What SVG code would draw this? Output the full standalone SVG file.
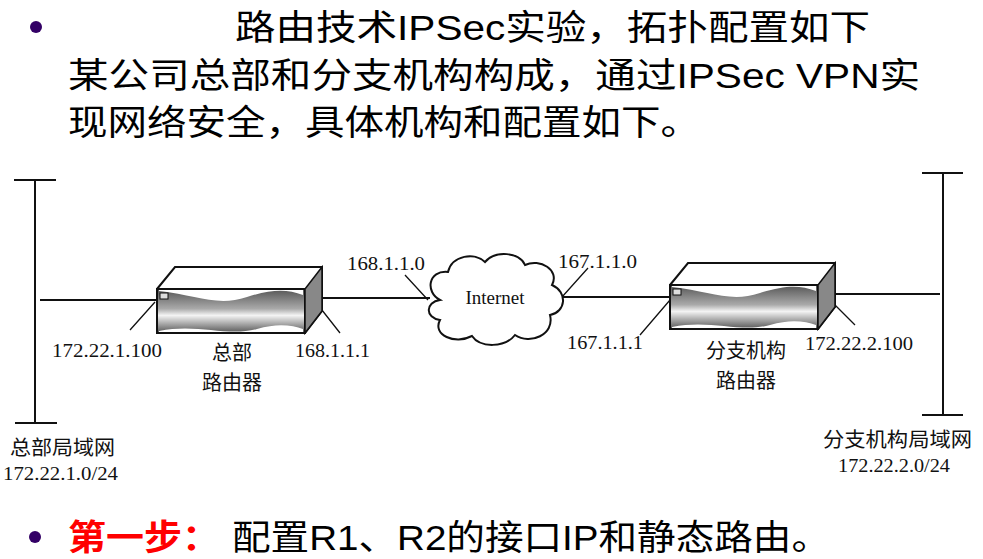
<svg xmlns="http://www.w3.org/2000/svg" width="983" height="559" viewBox="0 0 983 559">
<defs>
<style>
.t{font-family:"Liberation Sans","Noto Sans CJK SC",sans-serif;font-size:35px;fill:#000}
.r{fill:#ff0000;font-weight:bold}
.s{font-family:"Liberation Serif","Noto Sans CJK SC",serif;font-size:19px;fill:#111}
.c{font-family:"Noto Sans CJK SC",sans-serif;font-size:20px;fill:#111}
.ln{stroke:#111;stroke-width:2;fill:none}
.lf{stroke:#111;stroke-width:1.3;fill:none}
</style>
<linearGradient id="g" x1="0" y1="0" x2="0" y2="1">
<stop offset="0" stop-color="#555"/><stop offset="0.45" stop-color="#aaa"/><stop offset="0.6" stop-color="#f4f4f4"/><stop offset="1" stop-color="#555"/>
</linearGradient>
<g id="rt">
<path d="M0,22 L18,0 L165,0 L165,44 L148,66 L0,66 Z" fill="#fff" stroke="#111" stroke-width="2"/>
<path d="M0,22 L148,22 L148,66 L0,66 Z" fill="url(#g)" stroke="#111" stroke-width="2"/>
<path d="M148,22 L165,0 L165,44 L148,66 Z" fill="#888" stroke="#111" stroke-width="1.5"/>
<path d="M2,24 C40,28 60,40 90,30 C115,22 130,22 146,28 L146,23 L2,23 Z" fill="#fff"/>
<path d="M2,64 C40,56 70,70 100,62 C120,56 135,58 146,62 L146,65 L2,65 Z" fill="#fff"/>
<rect x="3" y="26" width="8" height="6" fill="#ddd" stroke="#111"/>
</g>
</defs>
<rect width="983" height="559" fill="#fff"/>
<g id="title">
<circle cx="36" cy="27" r="6" fill="#330066"/>
<text class="t" x="235" y="40" textLength="635" lengthAdjust="spacingAndGlyphs">路由技术IPSec实验，拓扑配置如下</text>
<text class="t" x="68" y="88" textLength="852" lengthAdjust="spacingAndGlyphs">某公司总部和分支机构构成，通过IPSec VPN实</text>
<text class="t" x="68" y="135" textLength="632" lengthAdjust="spacingAndGlyphs">现网络安全，具体机构和配置如下。</text>
</g>
<g id="connectors">
<path class="ln" d="M35,180V423M14,180H56M15,423H57"/>
<path class="ln" d="M943,173V415M922,173H963M922,415H963"/>
<path class="ln" d="M40,300H157M322,298H430M562,297H670M836,294H940"/>
<path class="lf" d="M130,330L155,302M340,333L318,305M405,275L428,300M588,268L562,297M640,335L670,300M855,325L830,300"/>
</g>
<g id="r1"><use href="#rt" x="157" y="267"/></g>
<g id="r2"><use href="#rt" x="670" y="263"/></g>
<g id="internet">
<path d="M440,300 C425,292 428,270 448,272 C452,255 475,252 485,262 C495,250 520,252 525,265 C540,258 560,270 552,285 C568,292 566,312 550,315 C555,335 530,345 515,335 C505,348 480,348 472,336 C455,345 432,335 440,320 C425,318 425,302 440,300 Z" fill="#fff" stroke="#111" stroke-width="2"/>
<text class="s" x="495" y="304" text-anchor="middle">Internet</text>
</g>
<g id="labels">
<text class="s" x="52" y="357" textLength="110" lengthAdjust="spacingAndGlyphs">172.22.1.100</text>
<text class="c" x="232" y="360" text-anchor="middle">总部</text>
<text class="c" x="232" y="390" text-anchor="middle">路由器</text>
<text class="s" x="295" y="357" textLength="75" lengthAdjust="spacingAndGlyphs">168.1.1.1</text>
<text class="s" x="347" y="270" textLength="78" lengthAdjust="spacingAndGlyphs">168.1.1.0</text>
<text class="s" x="558" y="268" textLength="79" lengthAdjust="spacingAndGlyphs">167.1.1.0</text>
<text class="s" x="567" y="349" textLength="76" lengthAdjust="spacingAndGlyphs">167.1.1.1</text>
<text class="c" x="746" y="358" text-anchor="middle">分支机构</text>
<text class="c" x="746" y="388" text-anchor="middle">路由器</text>
<text class="s" x="805" y="350" textLength="108" lengthAdjust="spacingAndGlyphs">172.22.2.100</text>
<text class="c" x="10" y="455" textLength="105" lengthAdjust="spacingAndGlyphs">总部局域网</text>
<text class="s" x="3" y="480" textLength="115" lengthAdjust="spacingAndGlyphs">172.22.1.0/24</text>
<text class="c" x="823" y="447" textLength="149" lengthAdjust="spacingAndGlyphs">分支机构局域网</text>
<text class="s" x="838" y="472" textLength="112" lengthAdjust="spacingAndGlyphs">172.22.2.0/24</text>
</g>
<g id="step">
<circle cx="35" cy="537" r="6" fill="#330066"/>
<text class="t r" x="68" y="550" textLength="152" lengthAdjust="spacingAndGlyphs">第一步：</text>
<text class="t" x="232" y="550" textLength="598" lengthAdjust="spacingAndGlyphs">配置R1、R2的接口IP和静态路由。</text>
</g>
</svg>
